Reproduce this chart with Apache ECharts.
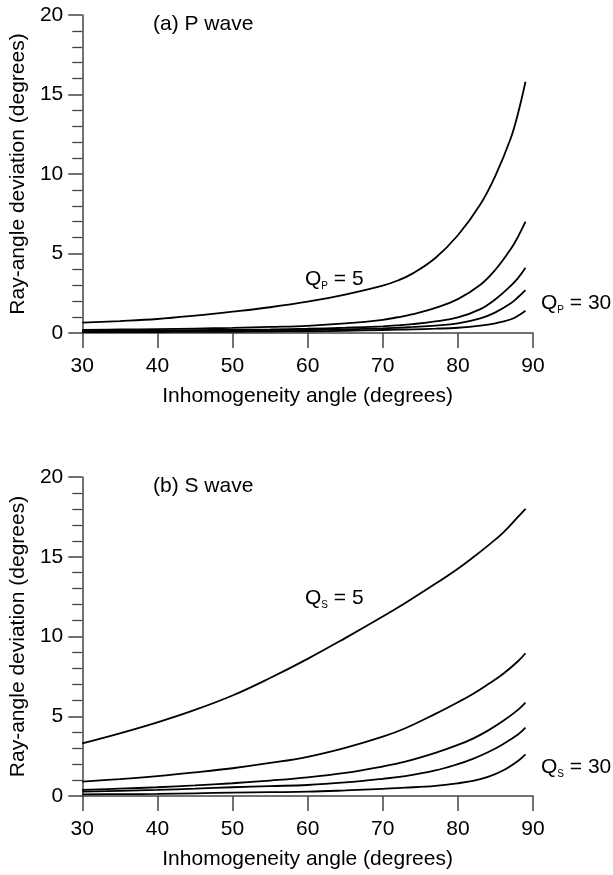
<!DOCTYPE html>
<html>
<head>
<meta charset="utf-8">
<script src="https://cdn.jsdelivr.net/npm/echarts@6/dist/echarts.min.js"></script>
<style>
html,body{margin:0;padding:0;background:#fff;}
#chart{width:613px;height:875px;}
</style>
</head>
<body>
<div id="chart"></div>
<script>
// ---- Data ----
const xTicks = [30, 40, 50, 60, 70, 80, 90];
const yTicks = [0, 5, 10, 15, 20];

// (a) P wave: inhomogeneity angle (deg)
const anglesP = [30, 35, 40, 45, 50, 55, 60, 65, 70, 72, 74, 77, 80, 83, 85, 87, 88, 89];
const pQ5  = [0.65, 0.75, 0.88, 1.09, 1.34, 1.62, 1.97, 2.42, 2.98, 3.30, 3.75, 4.72, 6.15, 8.10, 9.90, 12.2, 13.8, 15.8];
const pQ10 = [0.20, 0.22, 0.25, 0.28, 0.32, 0.38, 0.45, 0.60, 0.83, 0.99, 1.18, 1.58, 2.13, 3.03, 3.98, 5.25, 6.05, 7.0];
const pQ15 = [0.13, 0.14, 0.16, 0.18, 0.20, 0.23, 0.27, 0.33, 0.42, 0.48, 0.56, 0.73, 0.98, 1.50, 2.12, 2.95, 3.45, 4.1];
const pQ20 = [0.09, 0.10, 0.11, 0.12, 0.14, 0.16, 0.19, 0.23, 0.29, 0.33, 0.38, 0.47, 0.61, 0.92, 1.30, 1.85, 2.25, 2.7];
const pQ30 = [0.05, 0.055, 0.06, 0.07, 0.08, 0.09, 0.11, 0.14, 0.19, 0.21, 0.23, 0.27, 0.33, 0.46, 0.61, 0.85, 1.08, 1.4];

// (b) S wave
const anglesS = [30, 35, 40, 45, 50, 55, 60, 65, 70, 73, 77, 80, 82, 84, 86, 88, 89];
const sQ5  = [3.30, 3.93, 4.62, 5.40, 6.30, 7.40, 8.60, 9.90, 11.25, 12.1, 13.3, 14.25, 14.95, 15.7, 16.5, 17.5, 18.0];
const sQ10 = [0.90, 1.06, 1.25, 1.48, 1.74, 2.07, 2.46, 3.02, 3.72, 4.25, 5.15, 5.88, 6.40, 7.00, 7.65, 8.45, 8.95];
const sQ15 = [0.38, 0.46, 0.55, 0.66, 0.80, 0.97, 1.17, 1.45, 1.85, 2.15, 2.70, 3.20, 3.60, 4.10, 4.70, 5.40, 5.85];
const sQ20 = [0.27, 0.32, 0.38, 0.46, 0.55, 0.62, 0.69, 0.85, 1.08, 1.25, 1.60, 2.00, 2.33, 2.74, 3.25, 3.85, 4.28];
const sQ30 = [0.10, 0.12, 0.13, 0.17, 0.21, 0.24, 0.27, 0.35, 0.45, 0.52, 0.64, 0.80, 0.95, 1.20, 1.60, 2.20, 2.61];

const seriesP = [pQ5, pQ10, pQ15, pQ20, pQ30];
const seriesS = [sQ5, sQ10, sQ15, sQ20, sQ30];

const xTitle = 'Inhomogeneity angle (degrees)';
const yTitle = 'Ray-angle deviation (degrees)';

// ---- Chart ----
const FONT = '"Liberation Sans", Arial, Helvetica, sans-serif';
const AXIS_COLOR = '#444';
const chart = echarts.init(document.getElementById('chart'), null, {renderer: 'canvas'});

function xAxisCfg(gridIndex) {
  return {
    gridIndex, type: 'value',
    min: xTicks[0], max: xTicks[xTicks.length - 1], interval: xTicks[1] - xTicks[0],
    name: xTitle, nameLocation: 'middle', nameGap: 53,
    nameTextStyle: {fontFamily: FONT, fontSize: 21, color: '#000'},
    axisLine: {show: true, onZero: false, lineStyle: {color: AXIS_COLOR, width: 1.5}},
    axisTick: {show: true, inside: false, length: 15, lineStyle: {color: AXIS_COLOR, width: 1.5}},
    axisLabel: {show: true, margin: 23, fontFamily: FONT, fontSize: 21, color: '#000'},
    splitLine: {show: false}
  };
}
function yAxisCfg(gridIndex) {
  return {
    gridIndex, type: 'value',
    min: yTicks[0], max: yTicks[yTicks.length - 1], interval: yTicks[1] - yTicks[0],
    name: yTitle, nameLocation: 'middle', nameGap: 49, nameRotate: 90,
    nameTextStyle: {fontFamily: FONT, fontSize: 21, color: '#000'},
    axisLine: {show: true, onZero: false, lineStyle: {color: AXIS_COLOR, width: 1.5}},
    axisTick: {show: true, inside: false, length: 14, lineStyle: {color: AXIS_COLOR, width: 1.5}},
    minorTick: {show: true, splitNumber: 5, length: 10, lineStyle: {color: AXIS_COLOR, width: 1.3}},
    axisLabel: {show: true, margin: 19, fontFamily: FONT, fontSize: 21, color: '#000'},
    splitLine: {show: false},
    minorSplitLine: {show: false}
  };
}
function lineSeries(xs, ys, idx) {
  return {
    type: 'line', xAxisIndex: idx, yAxisIndex: idx,
    data: xs.map((x, i) => [x, ys[i]]),
    showSymbol: false, symbol: 'none', smooth: 0.4,
    lineStyle: {color: '#000', width: 1.8},
    silent: true, animation: false, z: 3
  };
}

const rich = {
  q: {fontFamily: FONT, fontSize: 21, color: '#000'},
  s: {fontFamily: FONT, fontSize: 10, color: '#000', verticalAlign: 'bottom', padding: [0, 0, -2, 0]}
};
function label(x, y, text) {
  return {
    type: 'text', x, y,
    style: {text, rich, fontFamily: FONT, fontSize: 21, fill: '#000', verticalAlign: 'middle', align: 'left'}
  };
}

const option = {
  animation: false,
  backgroundColor: '#fff',
  grid: [
    {left: 77, right: 80, top: 15, height: 318},
    {left: 77, right: 80, top: 477, height: 319}
  ],
  xAxis: [xAxisCfg(0), xAxisCfg(1)],
  yAxis: [yAxisCfg(0), yAxisCfg(1)],
  series: [
    ...seriesP.map(ys => lineSeries(anglesP, ys, 0)),
    ...seriesS.map(ys => lineSeries(anglesS, ys, 1))
  ],
  graphic: [
    {type: 'text', x: 153, y: 24, style: {text: '(a) P wave', fontFamily: FONT, fontSize: 21, fill: '#000', verticalAlign: 'middle'}},
    {type: 'text', x: 153, y: 486, style: {text: '(b) S wave', fontFamily: FONT, fontSize: 21, fill: '#000', verticalAlign: 'middle'}},
    label(305, 279, '{q|Q}{s|P}{q| = 5}'),
    label(541, 303, '{q|Q}{s|P}{q| = 30}'),
    label(305, 598, '{q|Q}{s|S}{q| = 5}'),
    label(541, 767, '{q|Q}{s|S}{q| = 30}')
  ]
};
chart.setOption(option);
</script>
</body>
</html>
